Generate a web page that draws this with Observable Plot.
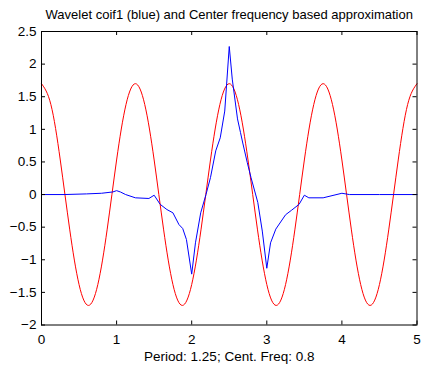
<!DOCTYPE html>
<html>
<head>
<meta charset="utf-8">
<script src="https://cdn.jsdelivr.net/npm/d3@7"></script>
<script src="https://cdn.jsdelivr.net/npm/@observablehq/plot@0.6"></script>
<style>
  html, body { margin: 0; padding: 0; background: #fff; }
  #chart svg { display: block; }
</style>
</head>
<body>
<div id="chart"></div>
<script>
// ---- data ----
const titleText = "Wavelet coif1 (blue) and Center frequency based approximation";
const xLabelText = "Period: 1.25; Cent. Freq: 0.8";

const xTicks = [0, 1, 2, 3, 4, 5];
const yTicks = [-2, -1.5, -1, -0.5, 0, 0.5, 1, 1.5, 2, 2.5];

// coif1 wavelet (blue)
const blueX = [0, 0.3, 0.6, 0.8, 0.95, 1.0, 1.05, 1.12, 1.25, 1.43, 1.5, 1.58, 1.67, 1.75, 1.83, 1.88, 1.93,
  2.0, 2.05, 2.12, 2.19, 2.25, 2.32, 2.38, 2.44, 2.5, 2.54, 2.61, 2.65, 2.68, 2.74, 2.79, 2.88, 2.94,
  3.0, 3.05, 3.12, 3.25, 3.33, 3.43, 3.5, 3.56, 3.75, 4.0, 4.1, 4.5, 5.0];
const blueY = [0, 0, 0.01, 0.02, 0.04, 0.06, 0.04, 0.0, -0.05, -0.06, -0.01, -0.15, -0.23, -0.28, -0.46, -0.52, -0.69,
  -1.22, -0.74, -0.28, 0.0, 0.26, 0.67, 0.87, 1.28, 2.27, 1.77, 1.16, 0.95, 0.79, 0.49, 0.26, -0.12, -0.56,
  -1.13, -0.74, -0.53, -0.31, -0.24, -0.15, -0.01, -0.05, -0.05, 0.02, 0.0, 0.0, 0.0];

// center-frequency approximation (red), sampled every 0.125
const redX = [0, 0.125, 0.25, 0.375, 0.5, 0.625, 0.75, 0.875, 1, 1.125, 1.25, 1.375, 1.5, 1.625, 1.75, 1.875,
  2, 2.125, 2.25, 2.375, 2.5, 2.625, 2.75, 2.875, 3, 3.125, 3.25, 3.375, 3.5, 3.625, 3.75, 3.875,
  4, 4.125, 4.25, 4.375, 4.5, 4.625, 4.75, 4.875, 5];
const redY = [1.7, 1.38, 0.53, -0.53, -1.38, -1.7, -1.38, -0.53, 0.53, 1.38,
  1.7, 1.38, 0.53, -0.53, -1.38, -1.7, -1.38, -0.53, 0.53, 1.38,
  1.7, 1.38, 0.53, -0.53, -1.38, -1.7, -1.38, -0.53, 0.53, 1.38,
  1.7, 1.38, 0.53, -0.53, -1.38, -1.7, -1.38, -0.53, 0.53, 1.38,
  1.7];

// ---- build tables ----
const blue = blueX.map((x, i) => ({x, y: blueY[i]}));
const red = redX.map((x, i) => ({x, y: redY[i]}));

const W = 423, H = 369;
const mL = 41, mR = 6.5, mT = 31, mB = 44.5;
const innerH = H - mT - mB;
const innerW = W - mL - mR;
const tick = 4;
const fmt = d => String(d).replace("-", "\u2212");
const font = "'Liberation Sans', Arial, Helvetica, sans-serif";

const chart = Plot.plot({
  width: W,
  height: H,
  marginLeft: mL,
  marginRight: mR,
  marginTop: mT,
  marginBottom: mB,
  style: {fontFamily: font, fontSize: "13px", color: "#000", background: "#fff", overflow: "visible"},
  x: {domain: [0, 5]},
  y: {domain: [-2, 2.5]},
  marks: [
    Plot.line(red, {x: "x", y: "y", stroke: "#ff0000", strokeWidth: 1, curve: "natural"}),
    Plot.line(blue, {x: "x", y: "y", stroke: "#0000ff", strokeWidth: 1}),
    Plot.frame({stroke: "#000", strokeWidth: 1}),
    // inward ticks: bottom/top
    Plot.tickX(xTicks, {x: d => d, insetTop: innerH - tick, stroke: "#000"}),
    Plot.tickX(xTicks, {x: d => d, insetBottom: innerH - tick, stroke: "#000"}),
    // inward ticks: left/right
    Plot.tickY(yTicks, {y: d => d, insetRight: innerW - tick, stroke: "#000"}),
    Plot.tickY(yTicks, {y: d => d, insetLeft: innerW - tick, stroke: "#000"}),
    Plot.axisX({ticks: xTicks, tickSize: 0, tickPadding: 9, tickFormat: fmt, label: null, fontSize: 13.5}),
    Plot.axisY({ticks: yTicks, tickSize: 0, tickPadding: 5, tickFormat: fmt, label: null, fontSize: 13.5}),
    Plot.text([titleText], {frameAnchor: "top", dy: -17, lineAnchor: "middle", text: d => d, fontSize: 13, fill: "#000"}),
    Plot.text([xLabelText], {frameAnchor: "bottom", dy: 31.5, lineAnchor: "middle", text: d => d, fontSize: 13.5, fill: "#000"})
  ]
});
document.getElementById("chart").appendChild(chart);
</script>
</body>
</html>
